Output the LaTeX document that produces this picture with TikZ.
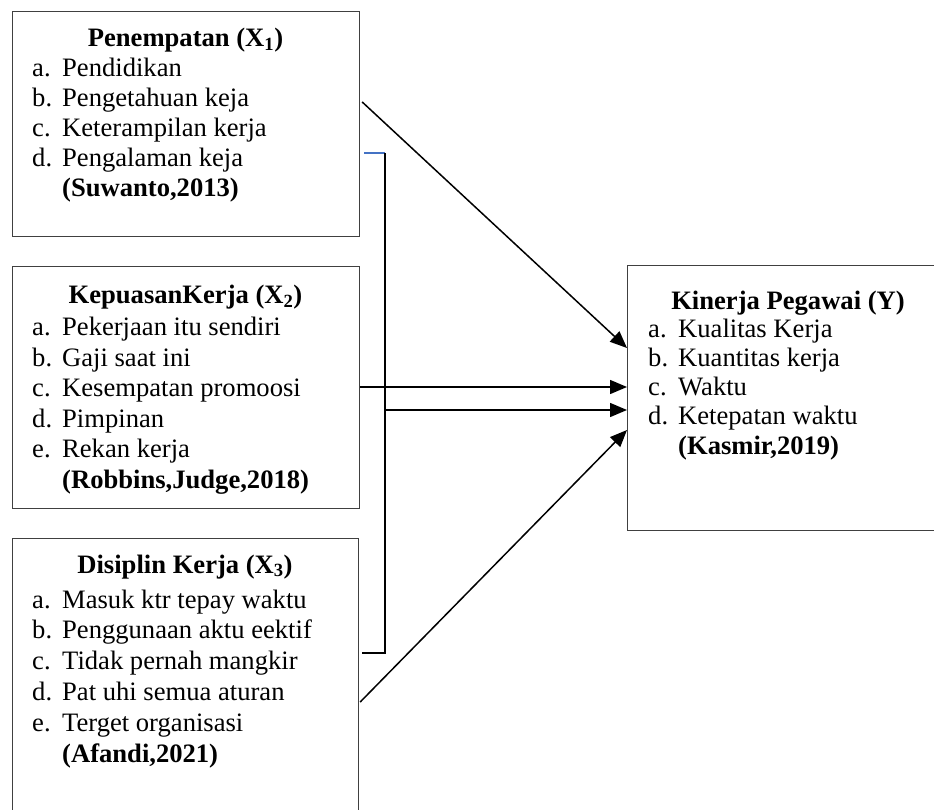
\documentclass[tikz,border=0pt]{standalone}
\usepackage{fontspec}
\setmainfont{Liberation Serif}
\usetikzlibrary{arrows.meta,calc}
\definecolor{wordblue}{RGB}{68,114,196}
\begin{document}
\begin{tikzpicture}[x=1pt,y=-1pt,
  box/.style={draw=black!75,line width=1.2pt,inner sep=0,anchor=north west},
  txt/.style={inner sep=0,anchor=base west,font=\fontsize{26.6}{30}\selectfont},
  ttl/.style={inner sep=0,anchor=base,font=\fontsize{26.6}{30}\selectfont\bfseries},
  cite/.style={inner sep=0,anchor=base west,font=\fontsize{26.6}{30}\selectfont\bfseries},
  conn/.style={line width=1.5pt,-{Triangle[length=17pt,width=14pt]}},
  plain/.style={line width=1.5pt}
  ]
\useasboundingbox (0,0) rectangle (934,810);
% boxes
\node[box,minimum width=347pt,minimum height=225pt] (x1) at (12,11) {};
\node[box,minimum width=347pt,minimum height=242pt] (x2) at (12,266) {};
\node[box,minimum width=346pt,minimum height=292pt] (x3) at (12,538) {};
\node[box,minimum width=322pt,minimum height=265pt] (y) at (627,265) {};
% box X1
\node[ttl] (x1t) at (185.5,47) {Penempatan (X\textsubscript{1})};
\node[txt] (x1a) at (32,77) {\makebox[30pt][l]{a.}Pendidikan};
\node[txt] (x1b) at (32,107) {\makebox[30pt][l]{b.}Pengetahuan keja};
\node[txt] (x1c) at (32,137) {\makebox[30pt][l]{c.}Keterampilan kerja};
\node[txt] (x1d) at (32,167) {\makebox[30pt][l]{d.}Pengalaman keja};
\node[cite] (x1s) at (62,197) {(Suwanto,2013)};
% box X2
\node[ttl] (x2t) at (185.5,304) {KepuasanKerja (X\textsubscript{2})};
\node[txt] (x2a) at (32,335) {\makebox[30pt][l]{a.}Pekerjaan itu sendiri};
\node[txt] (x2b) at (32,366) {\makebox[30pt][l]{b.}Gaji saat ini};
\node[txt] (x2c) at (32,396) {\makebox[30pt][l]{c.}Kesempatan promoosi};
\node[txt] (x2d) at (32,427) {\makebox[30pt][l]{d.}Pimpinan};
\node[txt] (x2e) at (32,457) {\makebox[30pt][l]{e.}Rekan kerja};
\node[cite] (x2s) at (62,488) {(Robbins,Judge,2018)};
% box X3
\node[ttl] (x3t) at (185,573) {Disiplin Kerja (X\textsubscript{3})};
\node[txt] (x3a) at (32,608) {\makebox[30pt][l]{a.}Masuk ktr tepay waktu};
\node[txt] (x3b) at (32,638) {\makebox[30pt][l]{b.}Penggunaan aktu eektif};
\node[txt] (x3c) at (32,669) {\makebox[30pt][l]{c.}Tidak pernah mangkir};
\node[txt] (x3d) at (32,700) {\makebox[30pt][l]{d.}Pat uhi semua aturan};
\node[txt] (x3e) at (32,731) {\makebox[30pt][l]{e.}Terget organisasi};
\node[cite] (x3s) at (62,762) {(Afandi,2021)};
% box Y
\node[ttl] (yt) at (788,309) {Kinerja Pegawai (Y)};
\node[txt] (ya) at (648,337) {\makebox[30pt][l]{a.}Kualitas Kerja};
\node[txt] (yb) at (648,366) {\makebox[30pt][l]{b.}Kuantitas kerja};
\node[txt] (yc) at (648,395) {\makebox[30pt][l]{c.}Waktu};
\node[txt] (yd) at (648,424) {\makebox[30pt][l]{d.}Ketepatan waktu};
\node[cite] (ys) at (678,454) {(Kasmir,2019)};
% bracket
\coordinate (bt) at (385,153);
\coordinate (bb) at (385,653);
\draw[wordblue,line width=1.5pt] ($(x1.north east)+(4,142)$) -- (bt);
\draw[plain] (bt) -- (bb) -- ($(x3.north east)+(3,115)$);
% connectors
\draw[conn] ($(x1.north east)+(2,91)$) -- ($(y.north west)+(0,83)$);
\draw[conn] ($(x2.north east)+(0,121)$) -- ($(y.north west)+(0,122)$);
\draw[conn] ($(bt)+(0,257)$) -- ($(y.north west)+(0,145)$);
\draw[conn] ($(x3.north east)+(1,164)$) -- ($(y.north west)+(0,165)$);
\end{tikzpicture}
\end{document}
